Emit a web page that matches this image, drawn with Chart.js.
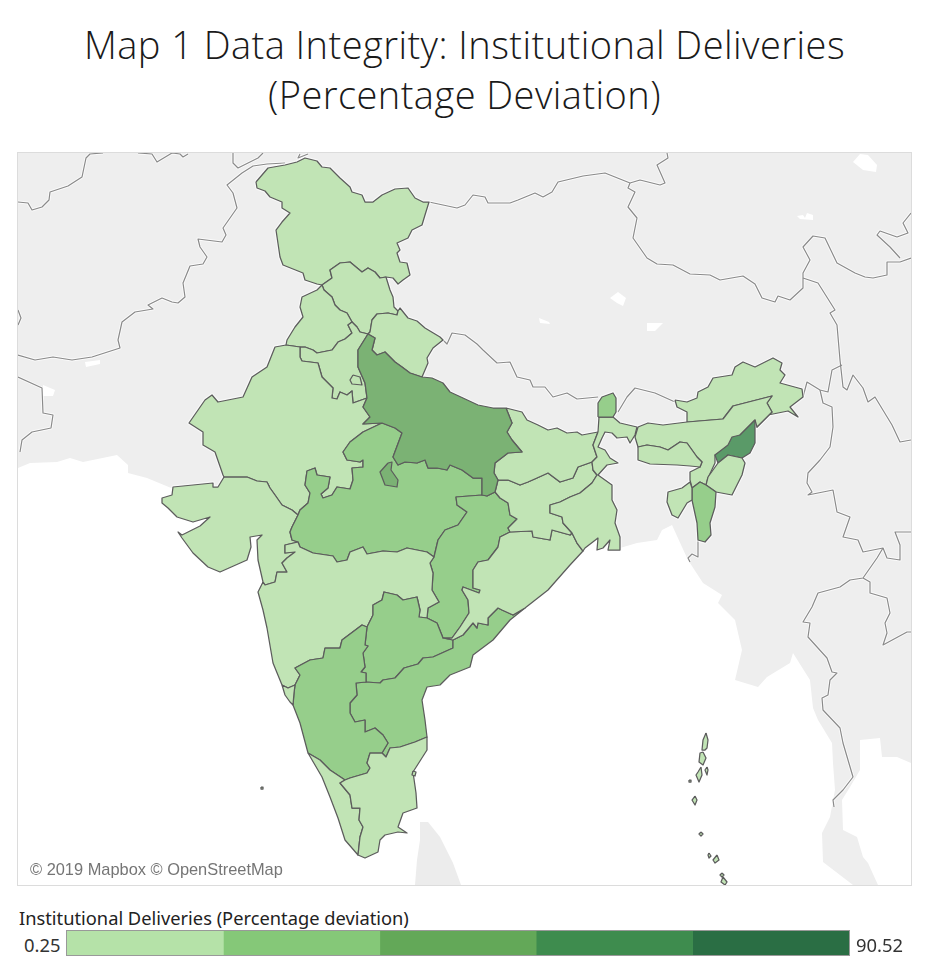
<!DOCTYPE html>
<html>
<head>
<meta charset="utf-8">
<title>Map 1 Data Integrity</title>
<script src="https://cdn.jsdelivr.net/npm/chart.js@4"></script>
<style>
  html, body { margin: 0; padding: 0; background: #fff; }
  body { position: relative; width: 929px; height: 974px; overflow: hidden; }
  .t { position: absolute; white-space: nowrap; }
  #title { left: 0; width: 929px; top: 19px; text-align: center; font: 300 38px/50px "Open Sans", sans-serif; letter-spacing: 0.45px; color: #1a1a1a; }
  #map-box { position: absolute; left: 18px; top: 153px; width: 893px; height: 732px; outline: 1px solid #dcdcdc; background: #eeeeee; }
  #credit { left: 30px; top: 860px; font: 16.4px "Liberation Sans", sans-serif; color: #757575; }
  #legend-title { left: 19px; top: 905px; font: 18.3px "Noto Sans", sans-serif; color: #222; }
  #legend-min { left: 24px; top: 932px; font: 18.4px "Noto Sans", sans-serif; color: #333; }
  #legend-max { left: 856px; top: 932px; font: 18.4px "Noto Sans", sans-serif; color: #333; }
  #legend-box { position: absolute; left: 67px; top: 931px; width: 782px; height: 24px; outline: 1px solid #999; }
</style>
</head>
<body>
<div id="title" class="t">Map 1 Data Integrity: Institutional Deliveries<br>(Percentage Deviation)</div>
<div id="map-box"><canvas id="map" width="893" height="732"></canvas></div>
<div id="credit" class="t">© 2019 Mapbox © OpenStreetMap</div>
<div id="legend-title" class="t">Institutional Deliveries (Percentage deviation)</div>
<div id="legend-min" class="t">0.25</div>
<div id="legend-box"><canvas id="legend" width="782" height="24"></canvas></div>
<div id="legend-max" class="t">90.52</div>
<script>
// legend bins
const legendEdges = [0.25, 18.3, 36.36, 54.41, 72.47, 90.52];
const legendColours = ['#b5e2a8', '#85c878', '#63a858', '#3e8c4e', '#2a6e44'];
// same bins as they look on the map (semi transparent)
const mapColours = ['#c1e4b5', '#96ce8b', '#7bb274', '#5a9a68', '#3f7e58'];

// ── outlines, in map units ────────────────────────────────────────────────
const jammuKashmir = [[256,182],[268,168],[285,165],[297,162],[305,158],[317,161],[322,167],[330,168],[340,178],[350,187],[352,192],[362,195],[365,202],[373,202],[382,195],[395,189],[408,188],[415,198],[423,202],[429,202],[425,215],[422,225],[412,230],[408,238],[397,243],[400,250],[397,253],[400,262],[407,263],[410,275],[403,280],[398,284],[393,278],[386,277],[380,278],[375,272],[368,268],[362,272],[350,262],[340,263],[330,270],[332,278],[322,285],[317,284],[305,280],[303,273],[283,265],[280,257],[276,230],[282,222],[290,213],[282,208],[282,202],[270,197],[265,191],[257,188]];
const himachal = [[386,277],[390,290],[393,297],[394,307],[398,311],[397,315],[388,313],[377,314],[372,320],[370,332],[368,334],[360,332],[357,327],[352,322],[347,313],[340,310],[335,305],[332,297],[324,290],[322,285],[332,278],[330,270],[340,263],[350,262],[362,272],[368,268],[375,272],[380,278]];
const punjab = [[322,285],[317,290],[302,297],[300,307],[303,317],[295,327],[287,340],[286,345],[300,347],[305,347],[313,350],[317,353],[332,350],[338,342],[345,339],[352,333],[348,325],[352,322],[347,313],[340,310],[335,305],[332,297],[324,290]];
const haryana = [[300,347],[300,357],[302,361],[318,363],[322,377],[333,388],[332,398],[337,399],[340,392],[347,395],[352,391],[353,403],[367,398],[365,383],[358,367],[358,350],[368,334],[360,332],[357,327],[352,322],[348,325],[352,333],[345,339],[338,342],[332,350],[317,353],[313,350],[305,347]];
const delhi = [[353,375],[360,377],[362,385],[352,384],[350,380]];
const uttarakhand = [[368,334],[370,332],[372,320],[377,314],[388,313],[397,315],[398,311],[400,308],[408,318],[417,321],[425,328],[440,337],[443,340],[433,348],[427,358],[428,363],[422,377],[410,373],[402,367],[395,362],[385,352],[377,355],[372,350],[375,338]];
const uttarPradesh = [[368,334],[375,338],[372,350],[377,355],[385,352],[395,362],[402,367],[410,373],[422,377],[432,378],[443,383],[450,392],[463,398],[478,405],[493,408],[506,408],[512,423],[507,432],[512,440],[522,452],[508,453],[495,463],[494,473],[498,480],[495,492],[487,496],[482,495],[482,478],[473,478],[462,470],[450,465],[447,470],[437,468],[428,468],[425,460],[417,463],[405,462],[398,465],[393,457],[402,433],[395,428],[382,423],[363,424],[370,417],[363,407],[367,398],[365,383],[358,367],[358,350]];
const jhansi = [[388,463],[380,472],[385,485],[397,487],[398,480],[391,470],[392,462]];
const rajasthan = [[286,345],[275,347],[267,367],[252,377],[243,397],[218,402],[212,395],[205,400],[189,423],[203,432],[203,445],[215,452],[223,475],[224,477],[247,477],[257,481],[267,482],[270,488],[275,495],[282,505],[292,510],[298,515],[300,510],[308,503],[310,493],[305,485],[307,471],[315,468],[317,475],[330,477],[328,488],[321,494],[323,498],[332,495],[337,487],[350,489],[353,480],[352,468],[363,467],[363,460],[360,462],[347,460],[343,452],[350,442],[363,432],[382,423],[363,424],[370,417],[363,407],[367,398],[353,403],[352,391],[347,395],[340,392],[337,399],[332,398],[333,388],[322,377],[318,363],[302,361],[300,357],[300,347]];
const gujarat = [[224,477],[218,487],[213,487],[213,483],[173,487],[172,495],[162,498],[162,503],[168,508],[177,517],[193,522],[210,517],[200,526],[192,530],[182,535],[178,532],[182,538],[193,553],[208,567],[220,572],[247,560],[251,547],[250,537],[262,535],[257,540],[258,560],[263,582],[265,585],[275,582],[277,572],[287,572],[282,563],[287,558],[295,552],[285,553],[285,545],[298,542],[292,540],[290,532],[292,527],[298,515],[292,510],[282,505],[275,495],[270,488],[267,482],[257,481],[247,477]];
const madhyaPradesh = [[382,423],[363,432],[350,442],[343,452],[347,460],[360,462],[363,460],[363,467],[352,468],[353,480],[350,489],[337,487],[332,495],[323,498],[321,494],[328,488],[330,477],[317,475],[315,468],[307,471],[305,485],[310,493],[308,503],[300,510],[298,515],[292,527],[290,532],[292,540],[298,542],[300,547],[313,553],[333,556],[337,562],[347,560],[350,552],[363,547],[367,554],[383,551],[397,552],[407,548],[427,552],[434,557],[438,540],[445,530],[458,525],[467,512],[457,505],[456,497],[482,495],[482,478],[473,478],[462,470],[450,465],[447,470],[437,468],[428,468],[425,460],[417,463],[405,462],[398,465],[393,457],[402,433],[395,428]];
const chhattisgarh = [[482,495],[487,496],[495,492],[500,498],[508,503],[510,515],[517,519],[508,528],[510,532],[500,537],[498,547],[488,560],[478,562],[473,570],[473,588],[480,590],[479,593],[463,587],[462,590],[468,600],[469,613],[460,627],[452,638],[443,638],[437,623],[427,618],[428,608],[439,602],[432,590],[433,573],[430,563],[434,557],[438,540],[445,530],[458,525],[467,512],[457,505],[456,497]];
const maharashtra = [[263,582],[258,592],[263,610],[267,628],[273,663],[282,685],[288,688],[295,685],[300,675],[295,668],[310,660],[323,658],[325,648],[340,648],[342,640],[362,625],[367,627],[373,615],[373,605],[382,600],[384,592],[397,595],[403,600],[417,597],[420,610],[419,617],[427,618],[428,608],[439,602],[432,590],[433,573],[430,563],[434,557],[427,552],[407,548],[397,552],[383,551],[367,554],[363,547],[350,552],[347,560],[337,562],[333,556],[313,553],[300,547],[298,542],[285,545],[285,553],[295,552],[287,558],[282,563],[287,572],[277,572],[275,582],[265,585]];
const telangana = [[367,627],[365,645],[368,646],[363,653],[365,667],[361,672],[366,673],[366,682],[380,683],[383,680],[395,678],[404,668],[418,664],[423,658],[433,657],[453,648],[453,640],[443,638],[437,623],[427,618],[419,617],[420,610],[417,597],[403,600],[397,595],[384,592],[382,600],[373,605],[373,615]];
const andhra = [[366,682],[380,683],[383,680],[395,678],[404,668],[418,664],[423,658],[433,657],[453,648],[453,640],[463,635],[473,623],[477,628],[478,623],[488,625],[488,618],[498,608],[502,610],[513,615],[525,608],[510,620],[493,640],[473,655],[470,667],[450,675],[440,685],[427,687],[422,700],[425,720],[427,737],[415,742],[400,747],[390,748],[386,757],[382,753],[388,743],[383,735],[375,728],[365,732],[365,720],[355,722],[350,713],[350,703],[357,695],[356,683]];
const karnataka = [[295,685],[294,693],[293,705],[300,723],[308,753],[320,760],[330,770],[345,780],[350,778],[367,773],[370,768],[367,763],[370,753],[382,753],[388,743],[383,735],[375,728],[365,732],[365,720],[355,722],[350,713],[350,703],[357,695],[356,683],[366,682],[366,673],[361,672],[365,667],[363,653],[368,646],[365,645],[367,627],[362,625],[342,640],[340,648],[325,648],[323,658],[310,660],[295,668],[300,675]];
const goa = [[282,685],[288,688],[295,685],[294,693],[293,705],[290,702],[285,695]];
const kerala = [[308,753],[322,777],[330,797],[338,818],[345,840],[358,855],[360,837],[363,827],[359,820],[360,808],[352,808],[350,795],[340,783],[345,780],[330,770],[320,760]];
const tamilNadu = [[345,780],[340,783],[350,795],[352,808],[360,808],[359,820],[363,827],[360,837],[358,855],[365,858],[378,852],[380,840],[385,835],[398,832],[407,833],[398,827],[403,813],[417,808],[416,793],[413,772],[427,750],[427,737],[415,742],[400,747],[390,748],[386,757],[382,753],[370,753],[367,763],[370,768],[367,773],[350,778]];
const odisha = [[510,532],[532,531],[533,537],[550,540],[552,530],[570,535],[572,533],[577,543],[583,551],[570,565],[548,590],[525,608],[513,615],[502,610],[498,608],[488,618],[488,625],[478,623],[477,628],[473,623],[463,635],[453,640],[443,638],[452,638],[460,627],[469,613],[468,600],[462,590],[463,587],[479,593],[480,590],[473,588],[473,570],[478,562],[488,560],[498,547],[500,537]];
const jharkhand = [[498,480],[508,480],[520,485],[528,482],[537,478],[548,473],[560,482],[573,478],[578,467],[592,462],[593,470],[597,475],[592,483],[580,493],[570,497],[560,502],[550,505],[550,513],[562,517],[563,523],[572,533],[570,535],[552,530],[550,540],[533,537],[532,531],[510,532],[508,528],[517,519],[510,515],[508,503],[500,498],[495,492]];
const bihar = [[506,408],[522,412],[527,420],[538,425],[548,430],[557,428],[567,433],[577,432],[582,435],[598,432],[593,445],[597,457],[592,462],[578,467],[573,478],[560,482],[548,473],[537,478],[528,482],[520,485],[508,480],[498,480],[494,473],[495,463],[508,453],[522,452],[512,440],[507,432],[512,423]];
const westBengal = [[598,432],[599,417],[613,417],[620,423],[637,427],[635,435],[630,443],[627,437],[617,438],[612,433],[605,432],[602,438],[598,447],[605,450],[610,458],[618,463],[607,465],[598,475],[612,485],[612,500],[617,510],[615,523],[620,537],[620,550],[608,550],[610,540],[603,548],[597,550],[598,538],[585,548],[583,551],[577,543],[572,533],[563,523],[562,517],[550,513],[550,505],[560,502],[570,497],[580,493],[592,483],[597,475],[593,470],[592,462],[597,457],[593,445]];
const sikkim = [[598,417],[598,403],[602,397],[613,393],[616,398],[616,412],[613,417]];
const arunachal = [[675,400],[687,402],[697,398],[698,392],[708,387],[713,378],[732,375],[735,367],[743,362],[755,367],[773,358],[782,363],[780,370],[785,375],[780,383],[802,389],[803,397],[790,407],[798,417],[788,411],[768,415],[757,427],[772,412],[767,403],[772,396],[733,406],[723,419],[687,422],[687,412],[677,407]];
const assam = [[638,427],[648,423],[663,425],[687,422],[723,419],[733,406],[772,396],[767,403],[772,412],[757,427],[755,420],[740,435],[728,447],[715,455],[715,463],[708,478],[706,485],[700,482],[692,488],[690,480],[690,472],[700,467],[702,462],[697,457],[687,443],[680,442],[668,450],[660,447],[647,445],[638,447],[635,437]];
const meghalaya = [[638,447],[647,445],[660,447],[668,450],[680,442],[687,443],[697,457],[702,462],[700,467],[690,466],[677,465],[650,464],[638,460]];
const nagaland = [[755,420],[755,443],[750,453],[742,458],[728,455],[718,463],[715,455],[728,445],[732,437],[740,435]];
const manipur = [[718,463],[728,455],[742,458],[745,463],[742,475],[732,495],[716,492],[706,485],[708,477]];
const mizoram = [[700,482],[706,485],[716,492],[715,507],[710,523],[711,535],[705,542],[698,540],[697,523],[692,500],[692,488]];
const tripura = [[690,482],[682,488],[668,492],[667,502],[672,515],[678,518],[687,503],[692,500],[692,488]];
const andamanNorth = [[706,733],[708,740],[707,748],[705,750],[702,750],[703,740]];
const andamanMiddle = [[703,752],[706,758],[703,765],[699,762],[700,753]];
const andamanSouth = [[701,767],[702,775],[699,782],[696,775],[698,772]];
const ritchie = [[707,767],[708,770],[707,775],[705,770]];
const littleAndaman = [[695,796],[697,800],[695,805],[692,800]];
const carNicobar = [[701,832],[703,834],[701,836],[699,834]];
const nancowry = [[717,855],[719,860],[715,863],[713,860]];
const greatNicobar = [[723,877],[727,882],[725,885],[721,882]];
const littleNicobar = [[722,873],[724,875],[722,877],[720,875]];
const teressa = [[709,853],[711,856],[709,858],[708,855]];
const lakshadweep = [[261,787],[263,787],[263,789],[261,789]];
const puducherry = [[413,771],[416,772],[415,776],[412,775]];
const northSentinel = [[689,780],[691,780],[691,782],[689,782]];

// bin (index into mapColours) of each state
const stateShapes = [
  [jammuKashmir, 0], [himachal, 0], [punjab, 0], [haryana, 0], [delhi, 0], [uttarakhand, 0],
  [rajasthan, 0], [gujarat, 0], [madhyaPradesh, 1], [chhattisgarh, 1], [maharashtra, 0],
  [telangana, 1], [andhra, 1], [karnataka, 1], [goa, 0], [kerala, 0], [tamilNadu, 0],
  [odisha, 0], [jharkhand, 0], [bihar, 0], [westBengal, 0], [sikkim, 1], [arunachal, 0],
  [assam, 0], [meghalaya, 0], [nagaland, 3], [manipur, 0], [mizoram, 1], [tripura, 0],
  [uttarPradesh, 2], [jhansi, 2], [andamanNorth, 0], [andamanMiddle, 0], [andamanSouth, 0],
  [ritchie, 0], [littleAndaman, 0], [carNicobar, 0], [nancowry, 0], [greatNicobar, 0],
  [littleNicobar, 0], [teressa, 0], [lakshadweep, 0], [puducherry, 0], [northSentinel, 0],
];

// ── base map ──────────────────────────────────────────────────────────────
const seaMain = [[18,468],[30,463],[57,462],[70,458],[83,462],[117,455],[128,465],[128,473],[147,478],[176,490],[230,500],[500,500],[600,530],[615,548],[620,548],[637,543],[657,540],[662,530],[672,525],[682,547],[688,560],[703,583],[722,595],[718,603],[735,620],[742,650],[735,680],[758,687],[767,677],[790,663],[793,653],[810,680],[813,708],[818,720],[832,743],[833,763],[835,790],[830,817],[822,833],[823,862],[853,885],[18,885]];
const seaGulf = [[860,740],[880,738],[882,757],[897,757],[911,763],[911,885],[878,885],[868,863],[863,857],[857,837],[843,830],[842,800],[850,787],[860,770]];
const lakes = [
  [[85,362],[100,360],[100,364],[86,367]],
  [[43,385],[55,390],[53,396],[43,396]],
  [[610,298],[618,292],[626,298],[623,306],[617,303]],
  [[539,318],[549,322],[550,324],[540,323]],
  [[647,323],[663,323],[655,331],[647,331]],
  [[853,162],[860,154],[868,155],[877,165],[876,172],[863,170]],
  [[797,216],[803,215],[805,218],[807,213],[813,215],[813,220],[800,219]],
];
const sriLanka = [[420,822],[428,822],[440,837],[453,863],[461,885],[415,885],[417,860],[420,840]];

const afghanNorth = [[18,202],[28,203],[32,210],[42,207],[49,200],[50,192],[68,186],[82,177],[86,158],[90,154],[103,153]];
const afghanTop = [[138,153],[152,154],[157,162],[172,153],[180,154],[183,157],[188,154]];
const pamirTop = [[233,153],[233,163],[238,168],[248,163],[258,158],[263,153]];
const karakoramTop = [[300,154],[298,158],[308,154]];
const durandLine = [[285,163],[267,164],[253,166],[242,173],[227,185],[233,193],[237,208],[223,228],[226,235],[222,242],[198,239],[200,247],[207,257],[203,264],[190,266],[183,283],[185,297],[178,303],[172,302],[162,298],[148,305],[153,309],[135,312],[122,322],[118,340],[120,348],[92,357],[72,360],[53,357],[35,360],[18,355]];
const iranPakistan = [[18,377],[42,388],[43,413],[53,415],[51,428],[32,432],[22,440],[20,452]];
const westEdge = [[18,310],[21,318],[18,325]];
const tibetSouth = [[429,202],[443,205],[457,208],[465,205],[473,195],[485,197],[488,203],[510,203],[518,200],[535,193],[543,197],[552,192],[558,182],[583,176],[605,173],[630,183],[640,180],[660,185],[665,183],[657,165],[668,158],[667,153]];
const chinaMyanmarNorth = [[630,183],[628,188],[635,192],[628,207],[637,218],[633,238],[647,258],[657,264],[673,265],[690,274],[710,275],[720,280],[743,276],[755,284],[762,298],[775,302],[778,296],[790,300],[803,288],[803,273],[810,260],[803,247],[813,236],[825,238],[837,263],[855,273],[865,277],[873,278],[887,275],[887,262],[900,262],[911,258]];
const yunnanLoop = [[900,258],[890,247],[877,235],[880,231],[897,237],[908,233],[903,223],[911,213]];
const myanmarChina = [[803,278],[818,283],[835,310],[830,313],[837,325],[840,360],[843,387],[847,390],[853,375],[863,388],[868,402],[875,397],[892,425],[900,442],[911,440]];
const arunachalEast = [[803,397],[807,382],[820,390],[828,392],[832,370],[842,365]];
const myanmarNorthEast = [[820,390],[823,403],[832,407],[833,427],[830,447],[820,460],[808,473],[807,483],[812,492],[808,495],[833,490],[837,512],[850,517],[843,537],[858,540],[863,552],[883,548],[877,558],[863,578],[850,580],[840,587],[818,593],[812,607],[803,622],[810,623],[808,637],[827,658],[832,672],[837,673],[830,680],[828,695],[822,698],[823,710],[840,728],[843,743],[848,760],[853,777],[843,790],[833,800],[834,807]];
const laosVietnam = [[863,578],[870,582],[870,593],[887,598],[890,613],[885,623],[887,633],[883,645],[907,632],[911,632]];
const laosNorth = [[883,548],[887,558],[900,560],[900,545],[895,532],[911,532]];
const bangladeshMyanmar = [[698,540],[698,557],[692,554],[688,558],[690,562]];
const bhutanBorder = [[618,412],[627,397],[635,388],[655,393],[675,402]];
const nepalBorder = [[443,340],[447,344],[452,333],[465,335],[477,344],[483,350],[497,363],[510,362],[517,377],[530,380],[533,387],[545,387],[553,397],[567,393],[577,399],[598,397]];
const countryBorders = [afghanNorth, afghanTop, pamirTop, karakoramTop, durandLine, iranPakistan, westEdge, tibetSouth, chinaMyanmarNorth, yunnanLoop, myanmarChina, arunachalEast, myanmarNorthEast, laosVietnam, laosNorth, bangladeshMyanmar, bhutanBorder, nepalBorder];

const toPoints = list => list.map(([x, y]) => ({ x, y }));
const closed = list => toPoints([...list, list[0]]);

const datasets = [];
function addShape(data, fillColour, lineColour, lineWidth) {
  datasets.push({
    data,
    showLine: true,
    fill: fillColour ? 'shape' : false,
    backgroundColor: fillColour || 'transparent',
    borderColor: lineColour,
    borderWidth: lineWidth,
    borderJoinStyle: 'round',
    pointRadius: 0,
    tension: 0,
    order: -datasets.length,
  });
}

addShape(closed(seaMain), '#ffffff', '#ffffff', 0);
addShape(closed(seaGulf), '#ffffff', '#ffffff', 0);
lakes.forEach(l => addShape(closed(l), '#ffffff', '#ffffff', 0));
addShape(closed(sriLanka), '#ececec', '#ececec', 0);
countryBorders.forEach(b => addShape(toPoints(b), null, 'rgba(255,255,255,0.75)', 3));
countryBorders.forEach(b => addShape(toPoints(b), null, '#8a8a8a', 1.2));
stateShapes.forEach(([outline]) => addShape(closed(outline), null, 'rgba(255,255,255,0.6)', 3.5));
stateShapes.forEach(([outline, bin]) => addShape(closed(outline), mapColours[bin], '#5c5c5c', 1.25));

new Chart(document.getElementById('map'), {
  type: 'scatter',
  data: { datasets },
  options: {
    responsive: false,
    animation: false,
    layout: { padding: 0 },
    plugins: { legend: { display: false }, tooltip: { enabled: false } },
    scales: {
      x: { type: 'linear', min: 18, max: 911, display: false },
      y: { type: 'linear', min: 153, max: 885, reverse: true, display: false },
    },
  },
});

new Chart(document.getElementById('legend'), {
  type: 'bar',
  data: {
    labels: ['bin'],
    datasets: legendColours.map((c, i) => ({
      data: [[legendEdges[i], legendEdges[i + 1]]],
      backgroundColor: c,
      barPercentage: 1,
      categoryPercentage: 1,
      grouped: false,
    })),
  },
  options: {
    indexAxis: 'y',
    responsive: false,
    animation: false,
    layout: { padding: 0 },
    plugins: { legend: { display: false }, tooltip: { enabled: false } },
    scales: {
      x: { type: 'linear', min: legendEdges[0], max: legendEdges[5], display: false },
      y: { display: false },
    },
  },
});
</script>
</body>
</html>
